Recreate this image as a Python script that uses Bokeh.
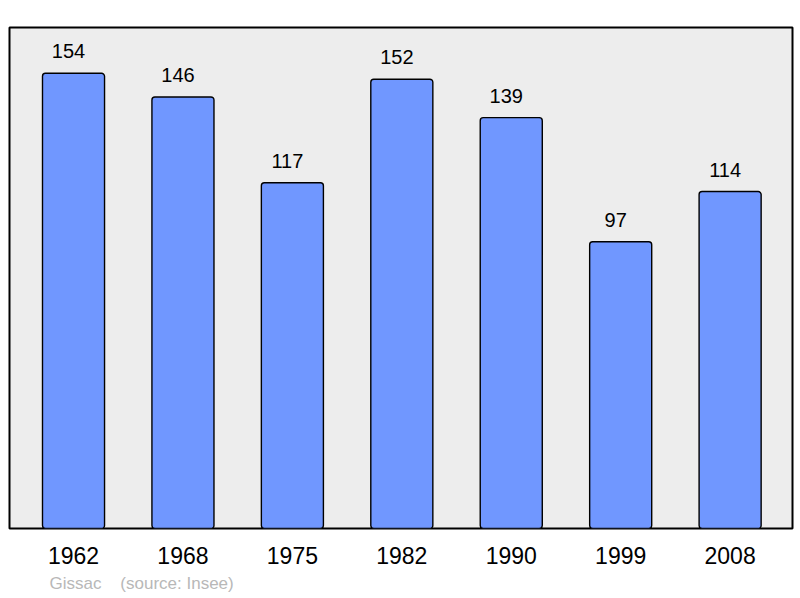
from bokeh.core.properties import value
from bokeh.embed import file_html
from bokeh.models import ColumnDataSource, FixedTicker, Range1d, Title
from bokeh.plotting import figure
from bokeh.resources import INLINE

years = ["1962", "1968", "1975", "1982", "1990", "1999", "2008"]
population = [154, 146, 117, 152, 139, 97, 114]
town = "Gissac"
source_note = "(source: Insee)"

xs = list(range(len(years)))
src = ColumnDataSource(data=dict(x=xs, pop=population, label=[str(v) for v in population]))

p = figure(width=800, height=598, output_backend="svg", toolbar_location=None,
           x_range=Range1d(-0.585, 6.57), y_range=Range1d(0, 169.5),
           min_border_left=9, min_border_right=8, min_border_top=27, min_border_bottom=70)
p.background_fill_color = "#ededed"
p.border_fill_color = "white"
p.outline_line_color = "black"
p.outline_line_width = 2
p.grid.visible = False
p.yaxis.visible = False

p.vbar(x="x", top="pop", width=0.567, bottom=0, source=src, border_radius=3,
       fill_color="#7097ff", line_color="black", line_width=1.4)

p.text(x="x", y="pop", text="label", source=src, x_offset=-5, y_offset=-22,
       text_align="center", text_baseline="alphabetic",
       text_font=value("Liberation Sans"), text_font_size="20px", text_color="black")

xa = p.xaxis[0]
xa.ticker = FixedTicker(ticks=xs)
xa.major_label_overrides = {i: y for i, y in enumerate(years)}
xa.axis_line_color = None
xa.major_tick_line_color = None
xa.minor_tick_line_color = None
xa.major_label_standoff = 12
xa.major_label_text_font = "Liberation Sans"
xa.major_label_text_font_size = "23px"
xa.major_label_text_color = "black"

foot = Title(text=town + "\u00a0\u00a0\u00a0\u00a0" + source_note, align="left", offset=40,
             text_font="Liberation Sans", text_font_size="17px",
             text_font_style="normal", text_color="#b8b8b8", standoff=11)
p.add_layout(foot, "below")

open("out.html", "w").write(file_html(p, INLINE))
